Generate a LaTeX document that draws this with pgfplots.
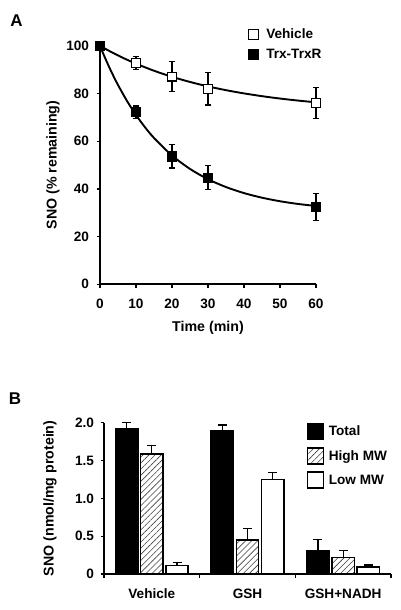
\documentclass[border=0pt]{standalone}
\usepackage{fontspec}
\setmainfont{Liberation Sans}
\usepackage{pgfplots}
\pgfplotsset{compat=1.18}
\usetikzlibrary{patterns.meta}

\pgfplotstableread{
t    v
0    100
2.5  97.9
5    95.96
7.5  94.16
10   92.50
15   89.54
20   87.00
25   84.84
30   82.98
35   81.39
40   80.04
45   78.88
50   77.88
55   77.03
60   76.31
}\vehcurve
\pgfplotstableread{
t    v
0    100
1    96.35
2    92.90
3    89.62
4    86.51
5    83.57
7.5  76.87
10   71.00
12.5 65.85
15   61.37
20   54.01
25   48.38
30   44.06
35   40.77
40   38.24
45   36.31
50   34.82
55   33.69
60   32.83
}\trxcurve

\begin{document}
\begin{tikzpicture}[x=1pt,y=1pt]
\useasboundingbox (0,0) rectangle (400,610);
\node[font=\fontsize{17}{17}\selectfont\bfseries] at (16.5,589) {A};
\node[font=\fontsize{17}{17}\selectfont\bfseries] at (15,211.5) {B};

\begin{axis}[
  at={(100pt,325.7pt)}, anchor=south west,
  scale only axis, width=216pt, height=238.5pt,
  xmin=0, xmax=60, ymin=0, ymax=100, clip=false,
  axis lines=left, axis line style={-, line width=1.7pt, black},
  tick align=outside, major tick length=3.5pt,
  tick style={line width=1.3pt, black},
  xtick={0,10,...,60}, ytick={0,20,...,100},
  /pgf/number format/assume math mode=true,
  tick label style={font=\fontsize{13.6}{14}\selectfont\bfseries},
  xticklabel style={yshift=-7.5pt},
  yticklabel style={xshift=-4pt},
  every axis x label/.style={at={(axis description cs:0.5,-0.182)}, anchor=center, font=\fontsize{14.2}{15}\selectfont\bfseries},
  every axis y label/.style={at={(axis description cs:-0.2176,0.5)}, rotate=90, anchor=center, font=\fontsize{14.2}{15}\selectfont\bfseries},
  xlabel={Time (min)}, ylabel={SNO (\% remaining)},
  legend style={at={(0.685,1.073)}, anchor=north west, draw=none, fill=none,
    font=\fontsize{13.6}{14}\selectfont\bfseries, inner sep=0pt,
    nodes={inner sep=0pt}, row sep=9pt, column sep=7pt},
  legend cell align=left,
]
\addplot[line width=1.9pt, smooth, black, forget plot] table[x=t,y=v] {\vehcurve};
\addplot[line width=1.9pt, smooth, black, forget plot] table[x=t,y=v] {\trxcurve};
\addplot[only marks, mark=square*, mark size=4.4pt,
  mark options={fill=white, draw=black, line width=1.1pt},
  legend image code/.code={\draw[black, line width=1.1pt, fill=white] (0pt,-5pt) rectangle (10pt,5pt);},
  error bars/.cd, y dir=both, y explicit,
  error bar style={line width=1.3pt, black},
  error mark options={rotate=90, mark size=3.4pt, line width=1.3pt, black}]
  coordinates {(0,100) +- (0,0) (10,92.8) +- (0,2.6) (20,87.1) +- (0,6.2) (30,82.0) +- (0,6.8) (60,76.0) +- (0,6.6)};
\addlegendentry{Vehicle}
\addplot[only marks, mark=square*, mark size=4.6pt,
  mark options={fill=black, draw=black, line width=0.5pt},
  legend image code/.code={\draw[black, line width=1.1pt, fill=black] (0pt,-5pt) rectangle (10pt,5pt);},
  error bars/.cd, y dir=both, y explicit,
  error bar style={line width=1.3pt, black},
  error mark options={rotate=90, mark size=3.4pt, line width=1.3pt, black}]
  coordinates {(0,100) +- (0,0) (10,72.2) +- (0,2.6) (20,53.7) +- (0,4.9) (30,44.7) +- (0,5.0) (60,32.4) +- (0,5.6)};
\addlegendentry{Trx-TrxR}
\end{axis}

\begin{axis}[
  at={(104pt,36pt)}, anchor=south west,
  scale only axis, width=287pt, height=151.3pt,
  xmin=-0.5, xmax=2.5, ymin=0, ymax=2, clip=false,
  axis lines=left, axis line style={-, line width=1.7pt, black},
  tick align=outside, major tick length=3.5pt,
  tick style={line width=1.3pt, black},
  ytick={0,0.5,1,1.5,2}, yticklabels={0,0.5,1.0,1.5,2.0},
  xtick={-0.5,0.5,1.5,2.5}, xticklabels={},
  extra x ticks={0,1,2}, extra x tick labels={Vehicle,GSH,GSH+NADH},
  extra x tick style={major tick length=0pt, tick style={draw=none}, xticklabel style={yshift=-11.5pt}},
  tick label style={font=\fontsize{13.6}{14}\selectfont\bfseries},
  yticklabel style={xshift=-3pt},
  every axis y label/.style={at={(axis description cs:-0.188,0.5)}, rotate=90, anchor=center, font=\fontsize{14.2}{15}\selectfont\bfseries},
  ylabel={SNO (nmol/mg protein)},
  ybar=2.9pt, bar width=22.3pt,
  legend style={at={(0.706,1.0)}, anchor=north west, draw=none, fill=none,
    font=\fontsize{13.6}{14}\selectfont\bfseries, inner sep=0pt,
    nodes={inner sep=0pt}, row sep=6.6pt, column sep=4.4pt},
  legend cell align=left,
  error bars/error bar style={line width=1.3pt, black},
  error bars/error mark options={rotate=90, mark size=4.5pt, line width=1.3pt, black},
]
\addplot[fill=black, draw=black, line width=1.6pt,
  legend image code/.code={\draw[black, line width=1.6pt, fill=black] (0pt,-8pt) rectangle (16pt,8pt);},
  error bars/.cd, y dir=plus, y explicit]
  coordinates {(0,1.925) +- (0,0.075) (1,1.89) +- (0,0.08) (2,0.31) +- (0,0.15)};
\addlegendentry{Total}
\addplot[draw=black, line width=1.6pt, pattern={Lines[angle=45,distance=4.3pt,line width=0.6pt]}, pattern color=black!75,
  legend image code/.code={\draw[black, line width=1.6pt, pattern={Lines[angle=45,distance=4.3pt,line width=0.6pt]}, pattern color=black!75] (0pt,-8pt) rectangle (16pt,8pt);},
  error bars/.cd, y dir=plus, y explicit]
  coordinates {(0,1.59) +- (0,0.11) (1,0.45) +- (0,0.15) (2,0.22) +- (0,0.09)};
\addlegendentry{High MW}
\addplot[fill=white, draw=black, line width=1.6pt,
  legend image code/.code={\draw[black, line width=1.6pt, fill=white] (0pt,-8pt) rectangle (16pt,8pt);},
  error bars/.cd, y dir=plus, y explicit]
  coordinates {(0,0.11) +- (0,0.04) (1,1.25) +- (0,0.09) (2,0.09) +- (0,0.03)};
\addlegendentry{Low MW}
\end{axis}
\end{tikzpicture}
\end{document}
